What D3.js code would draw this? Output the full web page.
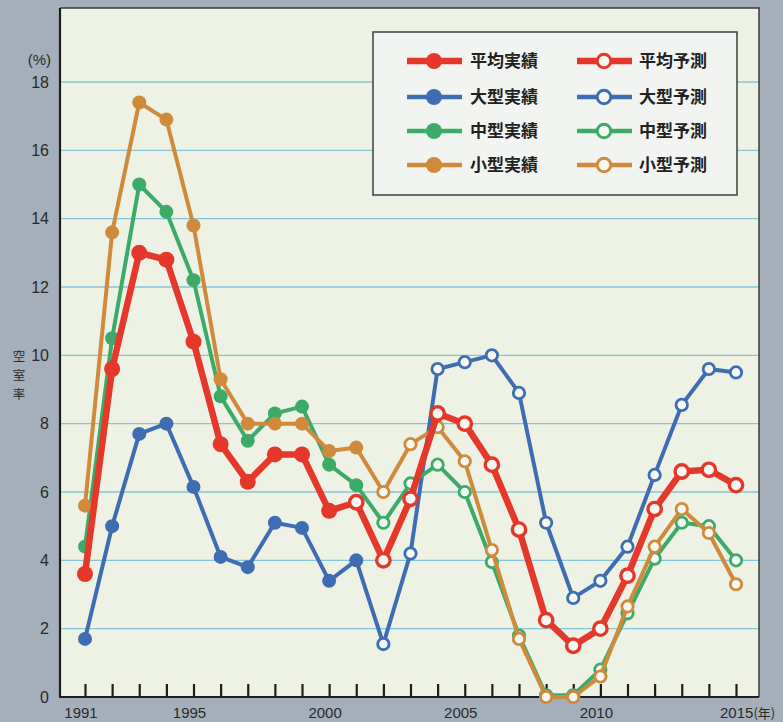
<!DOCTYPE html>
<html>
<head>
<meta charset="utf-8">
<script src="https://cdn.jsdelivr.net/npm/d3@7/dist/d3.min.js"></script>
<style>
  html, body { margin: 0; padding: 0; background: #a6b1bc; }
  svg { display: block; }
</style>
</head>
<body>
<svg id="chart" width="783" height="722"></svg>
<script>
// 空室率の推移（実績と予測）
const years = d3.range(1991, 2016);
const yTicks = [0, 2, 4, 6, 8, 10, 12, 14, 16, 18];
const xLabelYears = [1991, 1995, 2000, 2005, 2010, 2015];

const avgRate    = [3.6, 9.6, 13.0, 12.8, 10.4, 7.4, 6.3, 7.1, 7.1, 5.45, 5.7, 4.0, 5.8, 8.3, 8.0, 6.8, 4.9, 2.25, 1.5, 2.0, 3.55, 5.5, 6.6, 6.65, 6.2];
const largeRate  = [1.7, 5.0, 7.7, 8.0, 6.15, 4.1, 3.8, 5.1, 4.95, 3.4, 4.0, 1.55, 4.2, 9.6, 9.8, 10.0, 8.9, 5.1, 2.9, 3.4, 4.4, 6.5, 8.55, 9.6, 9.5];
const mediumRate = [4.4, 10.5, 15.0, 14.2, 12.2, 8.8, 7.5, 8.3, 8.5, 6.8, 6.2, 5.1, 6.25, 6.8, 6.0, 3.95, 1.8, 0.05, 0.05, 0.8, 2.45, 4.05, 5.1, 5.0, 4.0];
const smallRate  = [5.6, 13.6, 17.4, 16.9, 13.8, 9.3, 8.0, 8.0, 8.0, 7.2, 7.3, 6.0, 7.4, 7.9, 6.9, 4.3, 1.7, 0.0, 0.0, 0.6, 2.65, 4.4, 5.5, 4.8, 3.3];

// last year of actual figures for each series (later years are forecasts)
const lastActual = { avg: 2000, large: 2001, medium: 2001, small: 2001 };

const series = [
  { key: "large",  name: "大型", values: largeRate,  color: "#3e6db3", width: 4,   r: 7 },
  { key: "medium", name: "中型", values: mediumRate, color: "#3cab68", width: 4,   r: 7 },
  { key: "small",  name: "小型", values: smallRate,  color: "#d08a3c", width: 4,   r: 7 },
  { key: "avg",    name: "平均", values: avgRate,    color: "#e6372b", width: 6.5, r: 8 }
];

const svg = d3.select("#chart");
const W = 783, H = 722;
const plot = { left: 60, right: 759, top: 8, bottom: 697 };

const x = d3.scaleLinear().domain([1991, 2015]).range([85, 736]);
const y = d3.scaleLinear().domain([0, 18]).range([697, 82]);

// page background
svg.append("rect").attr("width", W).attr("height", H).attr("fill", "#a4afbb");

// plot panel
svg.append("rect")
  .attr("x", plot.left).attr("y", plot.top)
  .attr("width", plot.right - plot.left).attr("height", plot.bottom - plot.top)
  .attr("fill", "#edf2e4");

// horizontal grid
svg.append("g")
  .selectAll("line")
  .data(yTicks.filter(d => d > 0))
  .join("line")
  .attr("x1", plot.left).attr("x2", plot.right)
  .attr("y1", d => y(d)).attr("y2", d => y(d))
  .attr("stroke", "#86c3d6").attr("stroke-width", 1.3);

// panel frame (top and right)
svg.append("path")
  .attr("d", `M${plot.left},${plot.top}H${plot.right}V${plot.bottom}`)
  .attr("fill", "none").attr("stroke", "#3a3d3c").attr("stroke-width", 1.5);

// y axis line
svg.append("line")
  .attr("x1", plot.left).attr("x2", plot.left)
  .attr("y1", plot.top).attr("y2", plot.bottom)
  .attr("stroke", "#1e1e1e").attr("stroke-width", 2.2);

svg.append("g")
  .selectAll("text")
  .data(yTicks)
  .join("text")
  .attr("x", 49)
  .attr("y", d => y(d))
  .attr("dy", "0.36em")
  .attr("text-anchor", "end")
  .attr("font-family", "Liberation Sans, Arial, sans-serif")
  .attr("font-size", 16)
  .attr("fill", "#2a2a2a")
  .text(d => d);

svg.append("text")
  .attr("x", 51).attr("y", 65)
  .attr("text-anchor", "end")
  .attr("font-family", "Liberation Sans, Arial, sans-serif")
  .attr("font-size", 15)
  .attr("fill", "#2a2a2a")
  .text("(%)");

// vertical axis title, one character per line
svg.append("g")
  .selectAll("text")
  .data(["空", "室", "率"])
  .join("text")
  .attr("x", 19)
  .attr("y", (d, i) => 356 + i * 19)
  .attr("dy", "0.36em")
  .attr("text-anchor", "middle")
  .attr("font-family", "Noto Sans CJK JP, sans-serif")
  .attr("font-size", 12.5)
  .attr("fill", "#2a2a2a")
  .text(d => d);

// x axis with inward ticks
const xAxis = d3.axisBottom(x)
  .tickValues(years)
  .tickSize(-13)
  .tickSizeOuter(0)
  .tickFormat("");

const gx = svg.append("g")
  .attr("transform", `translate(0,${plot.bottom})`)
  .call(xAxis);
gx.select(".domain").remove();
gx.selectAll(".tick line").attr("stroke", "#1e1e1e").attr("stroke-width", 2.2);

svg.append("line")
  .attr("x1", plot.left - 1).attr("x2", plot.right)
  .attr("y1", plot.bottom).attr("y2", plot.bottom)
  .attr("stroke", "#1e1e1e").attr("stroke-width", 2.2);

// year labels under the axis
svg.append("g")
  .selectAll("text")
  .data(xLabelYears.filter(d => d !== 2015))
  .join("text")
  .attr("x", d => x(d) - 4)
  .attr("y", 718)
  .attr("text-anchor", "middle")
  .attr("font-family", "Liberation Sans, Arial, sans-serif")
  .attr("font-size", 15)
  .attr("fill", "#2a2a2a")
  .text(d => d);

svg.append("text")
  .attr("x", x(2015) - 16)
  .attr("y", 718)
  .attr("font-family", "Liberation Sans, Arial, sans-serif")
  .attr("font-size", 15)
  .attr("fill", "#2a2a2a")
  .text("2015")
  .append("tspan")
  .attr("font-family", "Noto Sans CJK JP, sans-serif")
  .attr("font-size", 13)
  .text("(年)");

// series lines and markers
const line = d3.line()
  .x((d, i) => x(years[i]))
  .y(d => y(d));

const hollowFill = "#f6f8f3";

series.forEach(s => {
  const g = svg.append("g");
  g.append("path")
    .datum(s.values)
    .attr("d", line)
    .attr("fill", "none")
    .attr("stroke", s.color)
    .attr("stroke-width", s.width)
    .attr("stroke-linejoin", "round");

  const pts = s.values.map((v, i) => ({ year: years[i], v, actual: years[i] <= lastActual[s.key] }));
  g.selectAll("circle")
    .data(pts)
    .join("circle")
    .attr("cx", d => x(d.year))
    .attr("cy", d => y(d.v))
    .attr("r", d => d.actual ? s.r : s.r - 1.3)
    .attr("fill", d => d.actual ? s.color : hollowFill)
    .attr("stroke", s.color)
    .attr("stroke-width", d => d.actual ? 0 : (s.key === "avg" ? 3.4 : 2.8));
});

// legend
const legend = svg.append("g");
legend.append("rect")
  .attr("x", 373).attr("y", 32)
  .attr("width", 364).attr("height", 163)
  .attr("fill", "#f2f4f1")
  .attr("stroke", "#3c3f3e").attr("stroke-width", 1.5);

const legendRows = [series[3], series[0], series[1], series[2]];
const rowY = [61, 97, 131, 165];

legendRows.forEach((s, i) => {
  [["実績", true, 407, 470], ["予測", false, 577, 639]].forEach(([suffix, actual, lx, tx]) => {
    legend.append("line")
      .attr("x1", lx).attr("x2", lx + 55)
      .attr("y1", rowY[i]).attr("y2", rowY[i])
      .attr("stroke", s.color)
      .attr("stroke-width", s.key === "avg" ? 6.5 : 4.5);
    legend.append("circle")
      .attr("cx", lx + 27).attr("cy", rowY[i])
      .attr("r", actual ? 8 : 6.8)
      .attr("fill", actual ? s.color : hollowFill)
      .attr("stroke", s.color)
      .attr("stroke-width", actual ? 0 : 3);
    legend.append("text")
      .attr("x", tx).attr("y", rowY[i])
      .attr("dy", "0.35em")
      .attr("font-family", "Noto Sans CJK JP, sans-serif")
      .attr("font-weight", "bold")
      .attr("font-size", 17)
      .attr("fill", "#222")
      .text(s.name + suffix);
  });
});
</script>
</body>
</html>
